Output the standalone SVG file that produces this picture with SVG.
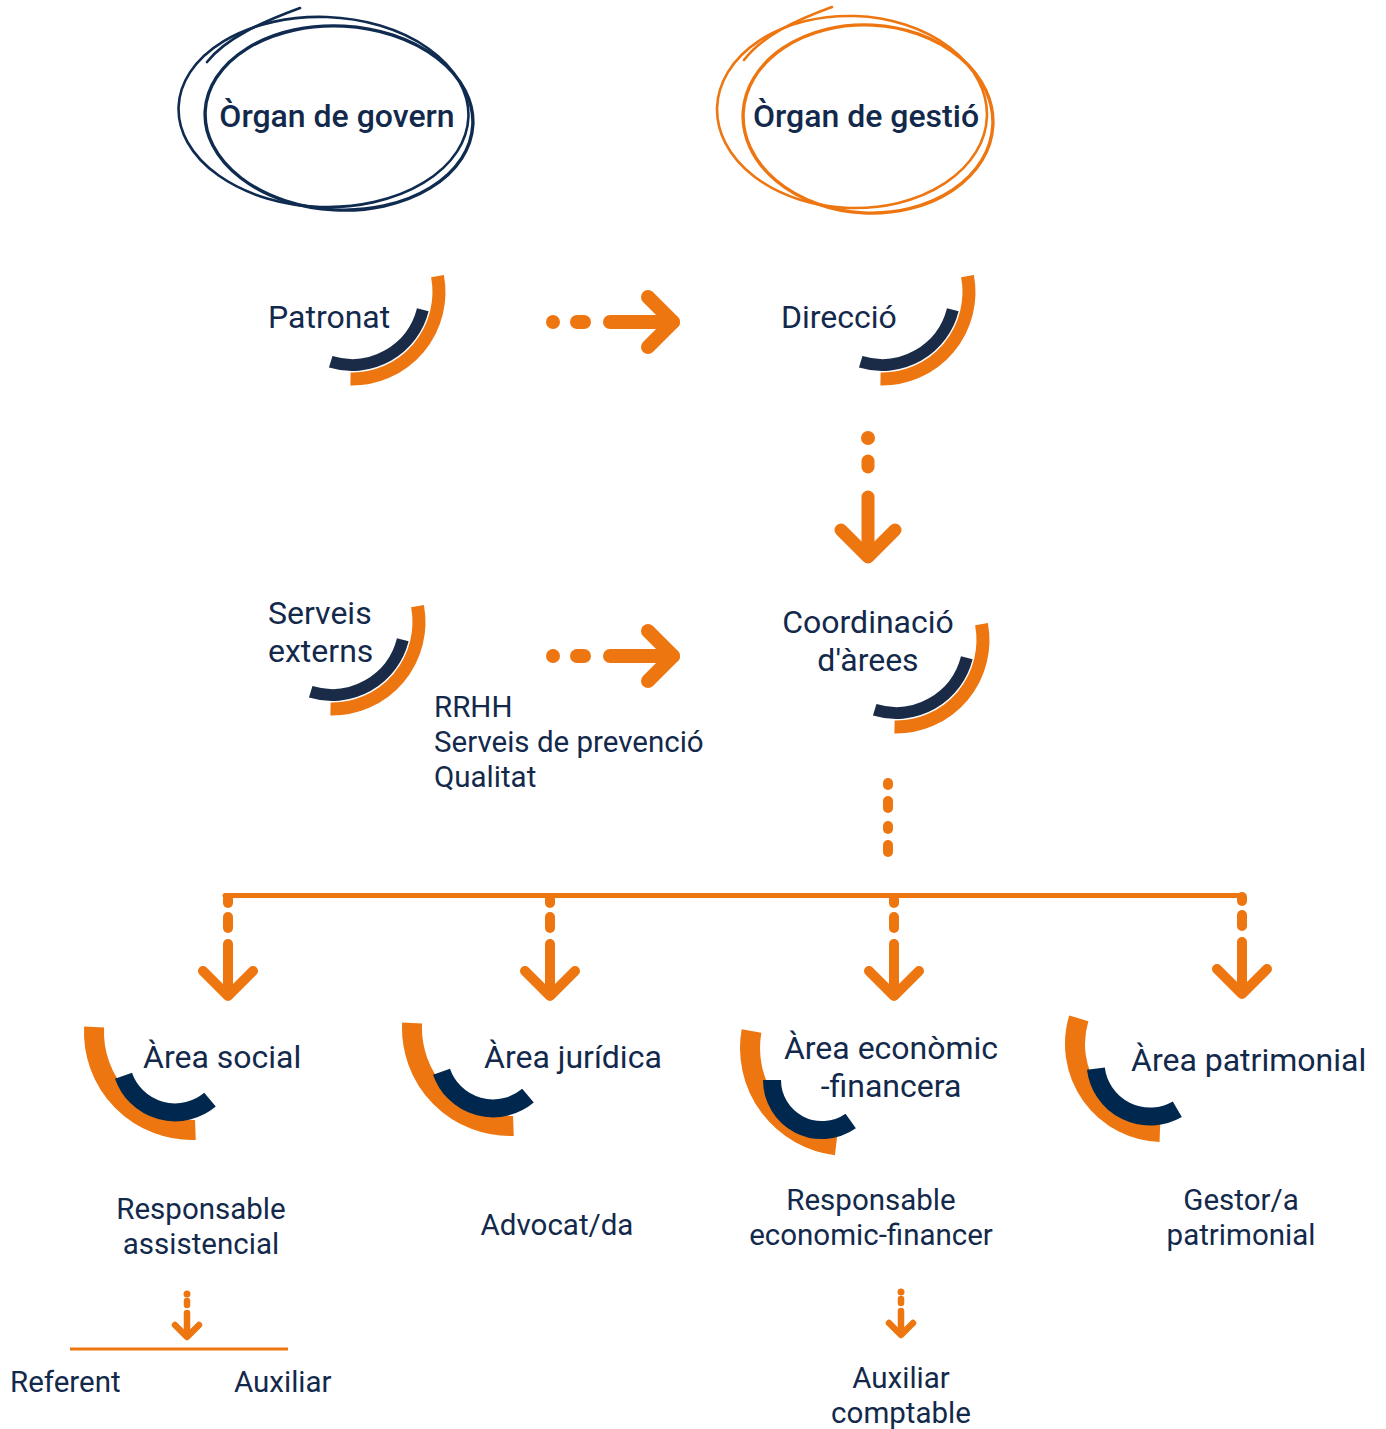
<svg xmlns="http://www.w3.org/2000/svg" width="1386" height="1429" viewBox="0 0 1386 1429">
<style>
.t{font-family:Roboto,'Liberation Sans',sans-serif;fill:#13294B;}
.h{font-size:32px;font-weight:500;}
.l{font-size:32px;}
.m{font-size:29.5px;}
.c{text-anchor:middle;}
.oa{fill:none;stroke:#EE7611;stroke-width:13;}
.na{fill:none;stroke:#1A2B47;stroke-width:12;}
.ob{fill:none;stroke:#EE7611;stroke-width:20;}
.nb{fill:none;stroke:#00284F;stroke-width:18;}
.ar{fill:none;stroke:#EE7611;stroke-linecap:round;stroke-linejoin:round;}
.sc{fill:none;stroke-linecap:round;}
</style>
<defs>
<g id="topArc">
<path class="oa" d="M 85.5 -15.9 A 87 87 0 0 1 -1.5 87"/>
<path class="na" d="M 70.8 17.7 A 73 73 0 0 1 -21.3 69.8"/>
</g>
<g id="hArrow" class="ar">
<circle cx="0" cy="0" r="7" fill="#EE7611" stroke="none"/>
<line x1="24" y1="0" x2="31" y2="0" stroke-width="14"/>
<line x1="57" y1="0" x2="120" y2="0" stroke-width="14"/>
<polyline points="95,-25 120,0 95,25" stroke-width="14"/>
</g>
<g id="bArrow" class="ar" stroke-width="10">
<line x1="0" y1="899" x2="0" y2="903"/>
<line x1="0" y1="917" x2="0" y2="928"/>
<line x1="0" y1="944" x2="0" y2="995"/>
<polyline points="-25,971 0,996 25,971"/>
</g>
<g id="sArrow" class="ar">
<circle cx="0" cy="1294" r="3.5" fill="#EE7611" stroke="none"/>
<line x1="0" y1="1301" x2="0" y2="1305" stroke-width="6.5"/>
<line x1="0" y1="1313" x2="0" y2="1335" stroke-width="6.5"/>
<polyline points="-12,1325 0,1337 12,1325" stroke-width="6.5"/>
</g>
<g id="socArcs">
<path class="ob" d="M 195.4 1129.9 A 98 98 0 0 1 94.1 1026.9"/>
<path class="nb" d="M 210 1099.7 A 54.5 54.5 0 0 1 123.5 1075.7"/>
</g>
</defs>

<g id="connectors">
<use href="#hArrow" x="553" y="322"/>
<use href="#hArrow" x="553" y="656"/>
<g class="ar">
<circle cx="868" cy="438" r="7" fill="#EE7611" stroke="none"/>
<line x1="868" y1="461" x2="868" y2="467" stroke-width="13"/>
<line x1="868" y1="497" x2="868" y2="556" stroke-width="13"/>
<polyline points="841,530 868,557 895,530" stroke-width="13"/>
</g>
<g class="ar" stroke-width="10">
<line x1="888" y1="783" x2="888" y2="785"/>
<line x1="888" y1="801" x2="888" y2="808"/>
<line x1="888" y1="826" x2="888" y2="829"/>
<line x1="888" y1="845" x2="888" y2="852"/>
</g>
<line x1="225" y1="895.5" x2="1243" y2="895.5" stroke="#EE7611" stroke-width="5" stroke-linecap="round"/>
<use href="#bArrow" x="228"/>
<use href="#bArrow" x="550"/>
<use href="#bArrow" x="894"/>
<use href="#bArrow" x="1242" y="-2"/>
<use href="#sArrow" x="187"/>
<line x1="70" y1="1349" x2="288" y2="1349" stroke="#EE7611" stroke-width="3"/>
<use href="#sArrow" x="901" y="-2"/>
</g>

<g id="organ-govern">
<g class="sc" stroke="#0F2B50">
<ellipse cx="323.5" cy="112" rx="145" ry="95" stroke-width="2.6" transform="rotate(2 323.5 112)"/>
<ellipse cx="339" cy="118" rx="134" ry="92" stroke-width="3.4" transform="rotate(3 339 118)"/>
<path d="M 300 8 C 262 22 226 38 207 62" stroke-width="2.6"/>
</g>
<text class="t h c" x="337" y="127">Òrgan de govern</text>
</g>

<g id="organ-gestio">
<g class="sc" stroke="#EE7611">
<ellipse cx="852" cy="112" rx="135" ry="96" stroke-width="2.6" transform="rotate(2 852 112)"/>
<ellipse cx="868" cy="119" rx="125" ry="94" stroke-width="3.4" transform="rotate(3 868 119)"/>
<path d="M 832 7 C 796 20 762 36 744 60" stroke-width="2.6"/>
</g>
<text class="t h c" x="866" y="127">Òrgan de gestió</text>
</g>

<g id="patronat">
<use href="#topArc" x="352" y="292"/>
<text class="t l" x="268" y="328">Patronat</text>
</g>

<g id="direccio">
<use href="#topArc" x="882" y="292"/>
<text class="t l" x="781" y="328">Direcció</text>
</g>

<g id="serveis-externs">
<use href="#topArc" x="332" y="622"/>
<text class="t l" x="268" y="624">Serveis</text>
<text class="t l" x="268" y="662">externs</text>
</g>

<g id="serveis-llista">
<text class="t m" x="434" y="717">RRHH</text>
<text class="t m" x="434" y="752">Serveis de prevenció</text>
<text class="t m" x="434" y="787">Qualitat</text>
</g>

<g id="coordinacio">
<use href="#topArc" x="896" y="640"/>
<text class="t l c" x="868" y="633">Coordinació</text>
<text class="t l c" x="868" y="671">d'àrees</text>
</g>

<g id="area-social">
<use href="#socArcs"/>
<text class="t l" x="143" y="1068">Àrea social</text>
</g>

<g id="area-juridica">
<use href="#socArcs" x="318" y="-4"/>
<text class="t l" x="484" y="1068">Àrea jurídica</text>
</g>

<g id="area-economica">
<path class="ob" d="M 836.1 1145.3 A 98 98 0 0 1 751.5 1031"/>
<path class="nb" d="M 850.7 1121 A 50 50 0 0 1 772 1080"/>
<text class="t l c" x="891" y="1059">Àrea econòmic</text>
<text class="t l c" x="891" y="1097">-financera</text>
</g>

<g id="area-patrimonial">
<path class="ob" stroke-width="19" d="M 1159.9 1131.9 A 88 88 0 0 1 1078.8 1018.3"/>
<path class="nb" d="M 1177.3 1109.2 A 54.5 54.5 0 0 1 1095.9 1068.6"/>
<text class="t l" x="1131" y="1071">Àrea patrimonial</text>
</g>

<g id="resp-assistencial">
<text class="t m c" x="201" y="1219">Responsable</text>
<text class="t m c" x="201" y="1254">assistencial</text>
</g>

<g id="advocat">
<text class="t m c" x="557" y="1235">Advocat/da</text>
</g>

<g id="resp-economic">
<text class="t m c" x="871" y="1210">Responsable</text>
<text class="t m c" x="871" y="1245">economic-financer</text>
</g>

<g id="gestor">
<text class="t m c" x="1241" y="1210">Gestor/a</text>
<text class="t m c" x="1241" y="1245">patrimonial</text>
</g>

<g id="referent">
<text class="t m" x="10" y="1392">Referent</text>
</g>

<g id="auxiliar">
<text class="t m" x="234" y="1392">Auxiliar</text>
</g>

<g id="auxiliar-comptable">
<text class="t m c" x="901" y="1388">Auxiliar</text>
<text class="t m c" x="901" y="1423">comptable</text>
</g>
</svg>
